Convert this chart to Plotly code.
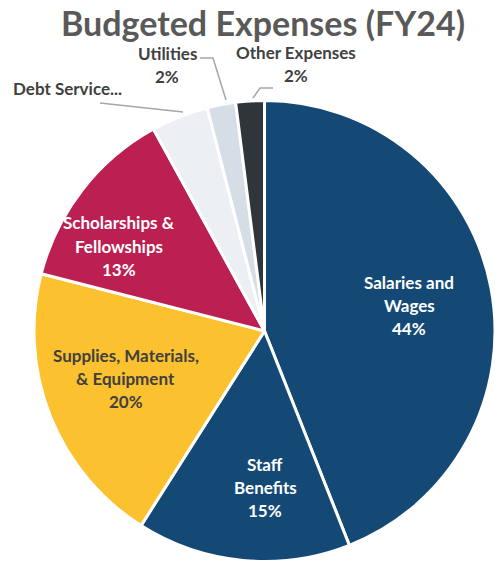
import plotly.graph_objects as go

# Budget categories, clockwise from 12 o'clock
categories = ["Salaries and Wages", "Staff Benefits", "Supplies, Materials, & Equipment",
              "Scholarships & Fellowships", "Debt Service", "Utilities", "Other Expenses"]
shares = [44, 15, 20, 13, 4, 2, 2]
slice_colors = ["#144976", "#144976", "#FCC12E", "#BC1F52", "#ECF0F4", "#D5DDE6", "#2E353B"]

# Display label lines for each category (percent appended from shares)
label_lines = [["Salaries and", "Wages"], ["Staff", "Benefits"], ["Supplies, Materials,", "& Equipment"],
               ["Scholarships &", "Fellowships"], ["Debt Service..."], ["Utilities"], ["Other Expenses"]]
show_pct = [True, True, True, True, False, True, True]
label_font_colors = ["white", "white", "#404040", "white", "#404040", "#404040", "#404040"]
# label block centres in pixels (x, y from top)
label_px = [(409, 305), (265, 487), (126, 378), (119, 246), (67, 89), (167, 65), (296, 64)]

W, H = 495, 564
FONT = "Lato"
LABEL_SIZE = 17
LINE_GAP = 23

fig = go.Figure()
fig.add_trace(go.Pie(
    labels=categories,
    values=shares,
    sort=False,
    direction="clockwise",
    rotation=0,
    marker=dict(colors=slice_colors, line=dict(color="white", width=3)),
    textinfo="none",
    hoverinfo="label+percent",
    showlegend=False,
    domain=dict(x=[34 / W, 1.0], y=[2 / H, 464 / H]),
))

annotations = []
for lines, pct, show, col, (px, py) in zip(label_lines, shares, show_pct,
                                           label_font_colors, label_px):
    text_lines = list(lines) + ([f"{pct}%"] if show else [])
    n = len(text_lines)
    for i, t in enumerate(text_lines):
        ly = py + (i - (n - 1) / 2) * LINE_GAP
        annotations.append(dict(
            x=px / W, y=1 - ly / H, xref="paper", yref="paper",
            text=f"<b>{t}</b>", showarrow=False,
            font=dict(family=FONT, size=LABEL_SIZE, color=col),
            xanchor="center", yanchor="middle",
        ))

annotations.append(dict(
    x=263 / W, y=1 - 22 / H, xref="paper", yref="paper",
    text="<b>Budgeted Expenses (FY24)</b>", showarrow=False,
    font=dict(family=FONT, size=34, color="#595959"),
    xanchor="center", yanchor="middle",
))

# leader lines for the small slices
def px_path(points):
    return "M " + " L ".join(f"{x / W:.4f},{1 - y / H:.4f}" for x, y in points)

leaders = [
    [(100, 103), (183, 112)],
    [(200, 58), (213, 58), (226, 100)],
    [(273, 88), (260, 88), (253, 98)],
]
shapes = [dict(type="path", xref="paper", yref="paper", path=px_path(p),
               line=dict(color="#A6A6A6", width=1.5)) for p in leaders]

fig.update_layout(
    width=W, height=H,
    margin=dict(l=0, r=0, t=0, b=0),
    paper_bgcolor="white", plot_bgcolor="white",
    annotations=annotations, shapes=shapes,
)

fig.write_html("out.html")
